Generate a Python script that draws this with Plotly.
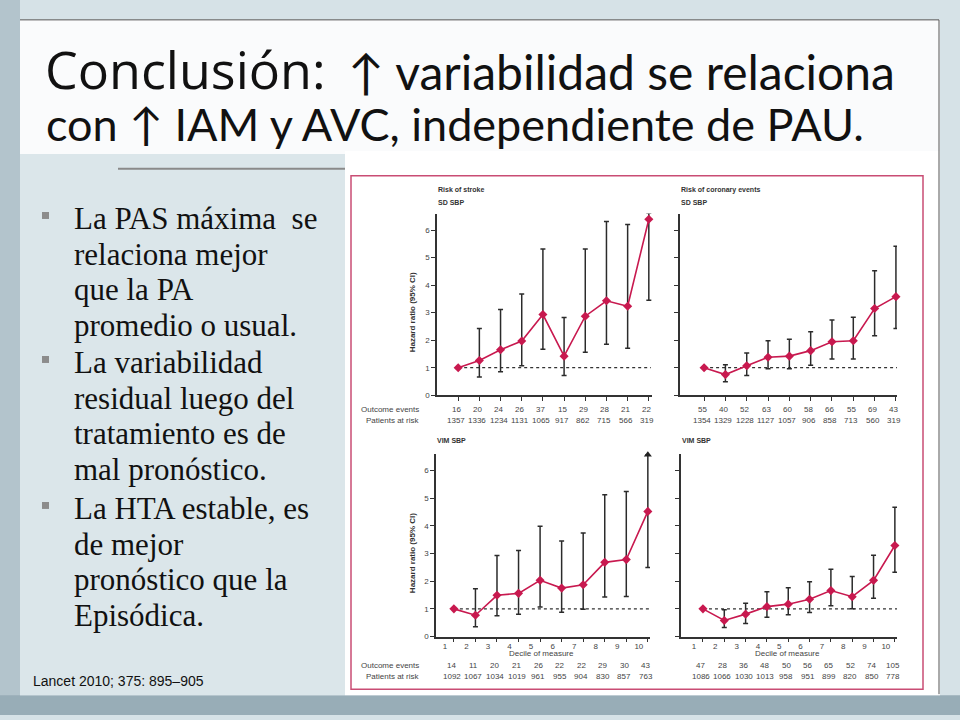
import plotly.graph_objects as go

W, H = 960, 720
def fx(p): return p / W
def fy(p): return 1 - p / H

deciles = list(range(1, 11))
decile_labels = [str(d) for d in deciles]

# ---- Data ----
stroke_sd_hr = [1.00, 1.26, 1.65, 1.97, 2.93, 1.42, 2.87, 3.43, 3.23, 6.39]
stroke_sd_lo = [1.00, 0.66, 0.85, 1.07, 1.67, 0.72, 1.56, 1.85, 1.71, 3.45]
stroke_sd_hi = [1.00, 2.42, 3.11, 3.68, 5.31, 2.82, 5.31, 6.31, 6.20, 6.62]
stroke_sd_trunc = [False] * 9 + [True]
stroke_sd_events = [16, 20, 24, 26, 37, 15, 29, 28, 21, 22]
stroke_sd_risk = [1357, 1336, 1234, 1131, 1065, 917, 862, 715, 566, 319]

coronary_sd_hr = [1.00, 0.75, 1.07, 1.38, 1.42, 1.62, 1.94, 1.98, 3.15, 3.58]
coronary_sd_lo = [1.00, 0.49, 0.72, 0.96, 0.96, 1.09, 1.32, 1.32, 2.16, 2.42]
coronary_sd_hi = [1.00, 1.11, 1.53, 1.98, 2.03, 2.31, 2.73, 2.83, 4.52, 5.41]
coronary_sd_trunc = [False] * 10
coronary_sd_events = [55, 40, 52, 63, 60, 58, 66, 55, 69, 43]
coronary_sd_risk = [1354, 1329, 1228, 1127, 1057, 906, 858, 713, 560, 319]

stroke_vim_hr = [1.00, 0.77, 1.49, 1.56, 2.03, 1.75, 1.87, 2.68, 2.78, 4.52]
stroke_vim_lo = [1.00, 0.35, 0.75, 0.81, 1.07, 0.88, 0.99, 1.43, 1.45, 2.49]
stroke_vim_hi = [1.00, 1.73, 2.93, 3.11, 3.98, 3.45, 3.74, 5.12, 5.24, 6.57]
stroke_vim_trunc = [False] * 9 + [True]
stroke_vim_events = [14, 11, 20, 21, 26, 22, 22, 29, 30, 43]
stroke_vim_risk = [1092, 1067, 1034, 1019, 961, 955, 904, 830, 857, 763]

coronary_vim_hr = [1.00, 0.58, 0.81, 1.08, 1.17, 1.35, 1.66, 1.44, 2.03, 3.29]
coronary_vim_lo = [1.00, 0.33, 0.47, 0.70, 0.79, 0.87, 1.11, 1.00, 1.38, 2.32]
coronary_vim_hi = [1.00, 0.97, 1.20, 1.62, 1.76, 1.98, 2.43, 2.17, 2.94, 4.67]
coronary_vim_trunc = [False] * 10
coronary_vim_events = [47, 28, 36, 48, 50, 56, 65, 52, 74, 105]
coronary_vim_risk = [1086, 1066, 1030, 1013, 958, 951, 899, 820, 850, 778]

y_ticks = [0, 1, 2, 3, 4, 5, 6]
reference_hr = 1

bullets = [
    ["La PAS máxima  se", "relaciona mejor", "que la PA", "promedio o usual."],
    ["La variabilidad", "residual luego del", "tratamiento es de", "mal pronóstico."],
    ["La HTA estable, es", "de mejor", "pronóstico que la", "Episódica."],
]

# ---- Panel geometry (page pixels) ----
panels = [
    dict(hr=stroke_sd_hr, lo=stroke_sd_lo, hi=stroke_sd_hi, trunc=stroke_sd_trunc,
         ev=stroke_sd_events, risk=stroke_sd_risk, x0=437, x1=652, ytop=215, ybot=398,
         xr=[0.0, 10.15], titles=["Risk of stroke", "SD SBP"], ylab=True, xlab=False,
         row_labels=True, ev_y=412, risk_y=423),
    dict(hr=coronary_sd_hr, lo=coronary_sd_lo, hi=coronary_sd_hi, trunc=coronary_sd_trunc,
         ev=coronary_sd_events, risk=coronary_sd_risk, x0=680, x1=897, ytop=215, ybot=398,
         xr=[-0.13, 10.05], titles=["Risk of coronary events", "SD SBP"], ylab=False, xlab=False,
         row_labels=False, ev_y=412, risk_y=423),
    dict(hr=stroke_vim_hr, lo=stroke_vim_lo, hi=stroke_vim_hi, trunc=stroke_vim_trunc,
         ev=stroke_vim_events, risk=stroke_vim_risk, x0=436, x1=650, ytop=457, ybot=641,
         xr=[0.17, 10.1], titles=["VIM SBP"], ylab=True, xlab=True,
         row_labels=True, ev_y=670, risk_y=681),
    dict(hr=coronary_vim_hr, lo=coronary_vim_lo, hi=coronary_vim_hi, trunc=coronary_vim_trunc,
         ev=coronary_vim_events, risk=coronary_vim_risk, x0=681, x1=897, ytop=457, ybot=641,
         xr=[-0.03, 10.1], titles=["VIM SBP"], ylab=False, xlab=True,
         row_labels=False, ev_y=670, risk_y=681),
]

LINE_C = "#c8194f"
AX_C = "#333333"
TXT_C = "#444444"
CHART_FONT = "Liberation Sans"

fig = go.Figure()
shapes = []
annotations = []

# ---- Slide background ----
shapes += [
    dict(type="rect", xref="paper", yref="paper", x0=0, x1=fx(20), y0=0, y1=1,
         fillcolor="#b3c4cc", line_width=0, layer="below"),
    dict(type="rect", xref="paper", yref="paper", x0=0, x1=1, y0=0, y1=fy(700),
         fillcolor="#98adb7", line_width=0, layer="below"),
    dict(type="rect", xref="paper", yref="paper", x0=fx(20), x1=fx(940), y0=fy(155), y1=fy(20),
         fillcolor="#fafbfc", line_width=0, layer="below"),
    dict(type="rect", xref="paper", yref="paper", x0=fx(20), x1=fx(345), y0=fy(700), y1=fy(155),
         fillcolor="#dbe6ea", line_width=0, layer="below"),
    dict(type="rect", xref="paper", yref="paper", x0=fx(345), x1=fx(940), y0=fy(700), y1=fy(152),
         fillcolor="#ffffff", line_width=0, layer="below"),
    dict(type="line", xref="paper", yref="paper", x0=fx(20), x1=fx(939), y0=fy(20), y1=fy(20),
         line=dict(color="#555555", width=1), layer="below"),
    dict(type="line", xref="paper", yref="paper", x0=fx(939), x1=fx(939), y0=fy(20), y1=fy(699),
         line=dict(color="#555555", width=1), layer="below"),
    dict(type="line", xref="paper", yref="paper", x0=fx(118), x1=fx(345), y0=fy(170), y1=fy(170),
         line=dict(color="#8a8a8a", width=2), layer="below"),
    dict(type="rect", xref="paper", yref="paper", x0=fx(351), x1=fx(923), y0=fy(694), y1=fy(177),
         line=dict(color="#c94d74", width=1.5), fillcolor="rgba(0,0,0,0)", layer="below"),
]

# ---- Title ----
annotations.append(dict(text="Conclusión:", x=fx(43), y=fy(69), xref="paper", yref="paper",
                        xanchor="left", yanchor="middle", showarrow=False,
                        font=dict(family="Open Sans", size=52, color="#111111")))
annotations.append(dict(text="↑ variabilidad se relaciona", x=fx(346), y=fy(72), xref="paper", yref="paper",
                        xanchor="left", yanchor="middle", showarrow=False,
                        font=dict(family="Lato", size=48, color="#111111")))
annotations.append(dict(text="con ↑ IAM y AVC, independiente de PAU.", x=fx(44), y=fy(125),
                        xref="paper", yref="paper", xanchor="left", yanchor="middle", showarrow=False,
                        font=dict(family="Lato", size=45, color="#111111")))

# ---- Bullets ----
line_y = [[220, 256, 292, 328], [365, 401, 437, 473], [512, 548, 584, 620]]
for bi, lines in enumerate(bullets):
    for li, txt in enumerate(lines):
        annotations.append(dict(text=txt, x=fx(72), y=fy(line_y[bi][li]), xref="paper", yref="paper",
                                xanchor="left", yanchor="middle", showarrow=False,
                                font=dict(family="Liberation Serif", size=31, color="#111111")))
    yb = line_y[bi][0] - 3
    shapes.append(dict(type="rect", xref="paper", yref="paper", x0=fx(42), x1=fx(49),
                       y0=fy(yb + 3.5), y1=fy(yb - 3.5), fillcolor="#8c8c8c", line_width=0))

annotations.append(dict(text="Lancet 2010; 375: 895–905", x=fx(31), y=fy(686), xref="paper", yref="paper",
                        xanchor="left", yanchor="middle", showarrow=False,
                        font=dict(family="Liberation Sans", size=14, color="#111111")))

# ---- Panels ----
for i, p in enumerate(panels):
    k = "" if i == 0 else str(i + 1)
    xa, ya = "x" + k, "y" + k
    err_plus = [h - v for h, v in zip(p["hi"], p["hr"])]
    err_minus = [v - l for v, l in zip(p["hr"], p["lo"])]
    fig.add_trace(go.Scatter(
        x=deciles, y=p["hr"], xaxis=xa, yaxis=ya, mode="lines+markers",
        line=dict(color=LINE_C, width=1.6),
        marker=dict(symbol="diamond", size=7, color=LINE_C),
        error_y=dict(type="data", array=err_plus, arrayminus=err_minus, symmetric=False,
                     color="#2b2b2b", thickness=1.5, width=2.5),
        cliponaxis=False, showlegend=False, hoverinfo="skip"))
    tx = [d for d, t in zip(deciles, p["trunc"]) if t]
    ty = [h for h, t in zip(p["hi"], p["trunc"]) if t]
    if tx:
        fig.add_trace(go.Scatter(x=tx, y=ty, xaxis=xa, yaxis=ya, mode="markers",
                                 marker=dict(symbol="triangle-up", size=7, color="#222222"),
                                 cliponaxis=False, showlegend=False, hoverinfo="skip"))
    shapes.append(dict(type="line", xref=xa, yref=ya, x0=deciles[0], x1=deciles[-1] + 0.1,
                       y0=reference_hr, y1=reference_hr,
                       line=dict(color="#333333", width=1.2, dash="dot"), layer="below"))
    xaxis = dict(domain=[fx(p["x0"]), fx(p["x1"])], range=p["xr"], anchor=ya,
                 showline=True, linecolor=AX_C, linewidth=1.5, showgrid=False, zeroline=False,
                 tickmode="array", tickvals=deciles, ticks="outside", ticklen=4, tickwidth=1.2,
                 tickcolor=AX_C, fixedrange=True)
    if p["xlab"]:
        xaxis.update(ticktext=decile_labels, showticklabels=True, ticklabelshift=-9,
                     ticklabelstandoff=-3,
                     tickfont=dict(family=CHART_FONT, size=8, color=TXT_C))
    else:
        xaxis.update(showticklabels=False)
    yaxis = dict(domain=[fy(p["ybot"]), fy(p["ytop"])], range=[0, 6.6], anchor=xa,
                 showline=True, linecolor=AX_C, linewidth=1.5, showgrid=False, zeroline=False,
                 tickmode="array", tickvals=y_ticks, ticks="outside", ticklen=4, tickwidth=1.2,
                 tickcolor=AX_C, showticklabels=p["ylab"],
                 tickfont=dict(family=CHART_FONT, size=8, color=TXT_C), fixedrange=True)
    fig.layout["xaxis" + k] = xaxis
    fig.layout["yaxis" + k] = yaxis

    for ti, t in enumerate(p["titles"]):
        ty0 = (191 if p["ytop"] < 300 else 444) + 13 * ti
        annotations.append(dict(text="<b>" + t + "</b>", x=fx(p["x0"] - 1), y=fy(ty0), xref="paper",
                                yref="paper", xanchor="left", yanchor="middle", showarrow=False,
                                font=dict(family=CHART_FONT, size=7, color="#333333")))
    if p["ylab"]:
        annotations.append(dict(text="<b>Hazard ratio (95% CI)</b>", x=fx(412),
                                y=fy((p["ytop"] + p["ybot"]) / 2 + 8), xref="paper", yref="paper",
                                textangle=-90, showarrow=False, xanchor="center", yanchor="middle",
                                font=dict(family=CHART_FONT, size=8, color="#333333")))
    if p["xlab"]:
        annotations.append(dict(text="Decile of measure", x=(p["x0"] + p["x1"]) / 2 / W - fx(2),
                                y=fy(658), xref="paper", yref="paper", showarrow=False,
                                xanchor="center", yanchor="middle",
                                font=dict(family=CHART_FONT, size=8, color=TXT_C)))
    if p["row_labels"]:
        for lab, yy in (("Outcome events", p["ev_y"]), ("Patients at risk", p["risk_y"])):
            annotations.append(dict(text=lab, x=fx(421), y=fy(yy), xref="paper", yref="paper",
                                    showarrow=False, xanchor="right", yanchor="middle",
                                    font=dict(family=CHART_FONT, size=8, color=TXT_C)))
    for d, e, r in zip(deciles, p["ev"], p["risk"]):
        annotations.append(dict(text=str(e), x=d, xref=xa, y=fy(p["ev_y"]), yref="paper",
                                showarrow=False, xanchor="center", yanchor="middle", xshift=-2,
                                font=dict(family=CHART_FONT, size=8, color=TXT_C)))
        annotations.append(dict(text=str(r), x=d, xref=xa, y=fy(p["risk_y"]), yref="paper",
                                showarrow=False, xanchor="center", yanchor="middle", xshift=-2,
                                font=dict(family=CHART_FONT, size=8, color=TXT_C)))

fig.update_layout(width=W, height=H, margin=dict(l=0, r=0, t=0, b=0),
                  paper_bgcolor="#d6e2e7", plot_bgcolor="rgba(0,0,0,0)",
                  shapes=shapes, annotations=annotations, showlegend=False)

fig.write_html("out.html", config={"displayModeBar": False},
               post_script="document.body.style.margin='0';document.body.style.overflow='hidden';")
